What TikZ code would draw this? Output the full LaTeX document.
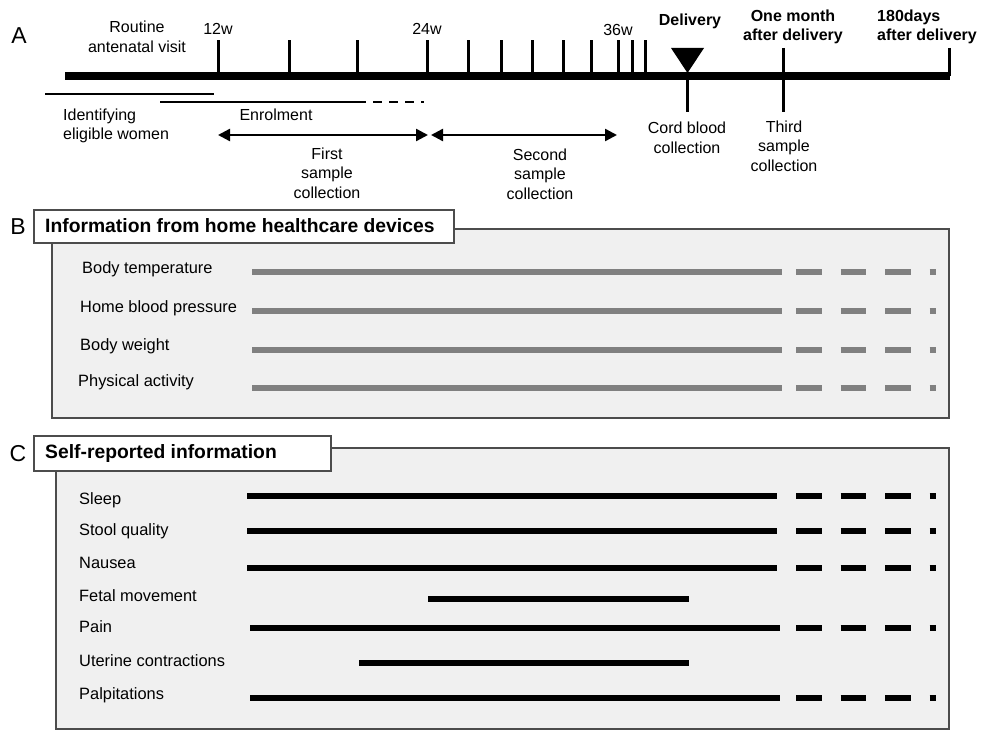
\documentclass[tikz,border=0pt]{standalone}
\usepackage{fontspec}
\setmainfont{Liberation Sans}
\usetikzlibrary{arrows.meta}
\begin{document}
\begin{tikzpicture}[x=1pt,y=-1pt,
  lbl/.style={font=\fontsize{16}{19.5}\selectfont, inner sep=0pt, align=center},
  blbl/.style={font=\bfseries\fontsize{16}{19.5}\selectfont, inner sep=0pt, align=center},
  rowlbl/.style={font=\fontsize{16.4}{19.5}\selectfont, inner sep=0pt, anchor=west},
  panellbl/.style={font=\fontsize{23}{26}\selectfont, inner sep=0pt},
  titletext/.style={font=\bfseries\fontsize{19.3}{22}\selectfont, inner sep=0pt, anchor=west},
  panelbox/.style={draw=black!70, fill=black!6, line width=1.3pt},
  titlebox/.style={draw=black!70, fill=white, line width=1.2pt},
  tickmark/.style={line width=3pt},
  span/.style={line width=1.6pt},
  period/.style={line width=2.4pt, {Triangle[length=12pt,width=12pt]}-{Triangle[length=12pt,width=12pt]}},
  devbar/.style={line width=5.5pt, draw=black!50},
  selfbar/.style={line width=6pt, draw=black},
  cont/.style={dash pattern=on 25.5pt off 19pt}]
\useasboundingbox (0,0) rectangle (981,730);

% ---------------- A: study timeline ----------------
\node[panellbl] (labA) at (19,36) {A};
\draw[line width=8pt] (65,76) -- (950,76);
% routine antenatal visits
\foreach \x in {218,289,357,427,468,501,532,563,591,618,632,645}
  \draw[tickmark] (\x,76) -- (\x,40);
\node[lbl] (routine) at (137,37) {Routine\\antenatal visit};
\node[lbl] (w12) at (218,29) {12w};
\node[lbl] (w24) at (427,29) {24w};
\node[lbl] (w36) at (618,30) {36w};
% delivery
\fill (671,48) -- (704,48) -- (687.5,73) -- cycle;
\draw[tickmark] (687,76) -- (687,112);
\node[blbl] (deliv) at (690,21) {Delivery};
\node[lbl] (cord) at (687,138) {Cord blood\\collection};
% postpartum
\draw[tickmark] (783,48) -- (783,112);
\draw[tickmark] (949,48) -- (949,76);
\node[blbl] (onemonth) at (793,27) {One month\\after delivery};
\node[blbl, align=left, anchor=west] (d180) at (877,27) {180days\\after delivery};
\node[lbl] (third) at (784,146) {Third\\sample\\collection};
% recruitment
\draw[span] (45,94) -- (214,94);
\draw[span] (160,102) -- (357,102);
\draw[span, dash pattern=on 9pt off 7pt] (357,102) -- (424,102);
\node[lbl, align=left, anchor=west] (ident) at (63,126) {Identifying\\eligible women};
\node[lbl] (enrol) at (276,115) {Enrolment};
% sample collection periods
\coordinate (p1a) at (218,135);
\coordinate (p1b) at (428,135);
\coordinate (p2a) at (431,135);
\coordinate (p2b) at (617,135);
\draw[period] (p1a) -- (p1b);
\draw[period] (p2a) -- (p2b);
\node[lbl] (first) at (327,173) {First\\sample\\collection};
\node[lbl] (second) at (540,174) {Second\\sample\\collection};

% ---------------- B: home healthcare devices ----------------
\draw[panelbox] (52,229) rectangle (949,418);
\draw[titlebox] (34,210) rectangle (454,243);
\node[titletext] (titleB) at (45,226) {Information from home healthcare devices};
\node[panellbl] (labB) at (18,227) {B};
\foreach \ly/\by/\lx/\txt in {269/272/82/Body temperature,
                             308/311/80/Home blood pressure,
                             346/350/80/Body weight,
                             382/388/78/Physical activity}{
  \node[rowlbl] at (\lx,\ly) {\txt};
  \draw[devbar] (252,\by) -- (782,\by);
  \draw[devbar, cont] (796,\by) -- (936,\by);
}

% ---------------- C: self-reported information ----------------
\draw[panelbox] (56,448) rectangle (949,729);
\draw[titlebox] (34,436) rectangle (331,471);
\node[titletext] (titleC) at (45,454) {Self-reported information};
\node[panellbl] (labC) at (18,454) {C};
\foreach \ly/\by/\xa/\xb/\more/\txt in {500/496/247/777/1/Sleep,
                                      531/531/247/777/1/Stool quality,
                                      563/568/247/777/1/Nausea,
                                      596/599/428/689/0/Fetal movement,
                                      627/628/250/780/1/Pain,
                                      661/663/359/689/0/Uterine contractions,
                                      695/698/250/780/1/Palpitations}{
  \node[rowlbl] at (79,\ly) {\txt};
  \draw[selfbar] (\xa,\by) -- (\xb,\by);
  \ifnum\more=1 \draw[selfbar, cont] (796,\by) -- (936,\by); \fi
}
\end{tikzpicture}
\end{document}
